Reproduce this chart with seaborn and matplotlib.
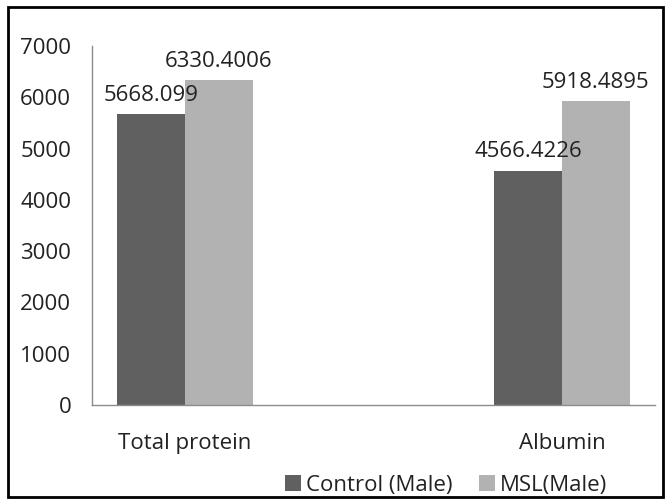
import numpy as np
import matplotlib
matplotlib.use("Agg")
import matplotlib.pyplot as plt
from matplotlib.patches import Rectangle
import seaborn as sns
import pandas as pd

# values
categories = ["Total protein", "Albumin"]
groups = ["Control (Male)", "MSL(Male)"]
control_vals = [5668.099, 4566.4226]
msl_vals = [6330.4006, 5918.4895]
label_text = {"Control (Male)": ["5668.099", "4566.4226"],
              "MSL(Male)": ["6330.4006", "5918.4895"]}
yticks = [0, 1000, 2000, 3000, 4000, 5000, 6000, 7000]

df = pd.DataFrame({
    "parameter": categories * 2,
    "group": [groups[0]] * 2 + [groups[1]] * 2,
    "value": control_vals + msl_vals,
})

sns.set_style("white")
plt.rcParams["font.family"] = ["Open Sans", "DejaVu Sans"]
fs = 16

fig = plt.figure(figsize=(6.7, 5.04), dpi=100)
ax = fig.add_axes([92 / 670, 1 - 405 / 504, (655 - 92) / 670, (405 - 46) / 504])

sns.barplot(data=df, x="parameter", y="value", hue="group", order=categories,
            hue_order=groups, palette=["#606060", "#b2b2b2"], width=0.36,
            gap=0, saturation=1, errorbar=None, linewidth=0, ax=ax, legend=True)

for cont, g in zip(ax.containers, groups):
    ax.bar_label(cont, labels=label_text[g], padding=6, fontsize=fs, color="#222222")

ax.set_xlim(-0.247, 1.247)
ax.set_ylim(0, 7000)
ax.set_yticks(yticks)
ax.set_xlabel("")
ax.set_ylabel("")
ax.tick_params(axis="y", length=0, pad=15, labelsize=fs, colors="#222222")
ax.tick_params(axis="x", length=0, pad=20, labelsize=fs, colors="#222222")

for s in ["top", "right"]:
    ax.spines[s].set_visible(False)
for s in ["left", "bottom"]:
    ax.spines[s].set_color("#8c8c8c")
    ax.spines[s].set_linewidth(1)

handles, labels = ax.get_legend_handles_labels()
ax.legend(handles, labels, loc="center", bbox_to_anchor=(446 / 670, 1 - 485 / 504),
          bbox_transform=fig.transFigure, ncol=2, frameon=False, fontsize=fs,
          handlelength=0.72, handleheight=0.72, handletextpad=0.2, columnspacing=1.2,
          labelcolor="#222222")

# outer frame around the whole chart
fig.patches.append(Rectangle((8 / 670, 7 / 504), 655 / 670, 490 / 504, transform=fig.transFigure,
                             fill=False, edgecolor="black", linewidth=2))

fig.savefig("out.png", dpi=100)
